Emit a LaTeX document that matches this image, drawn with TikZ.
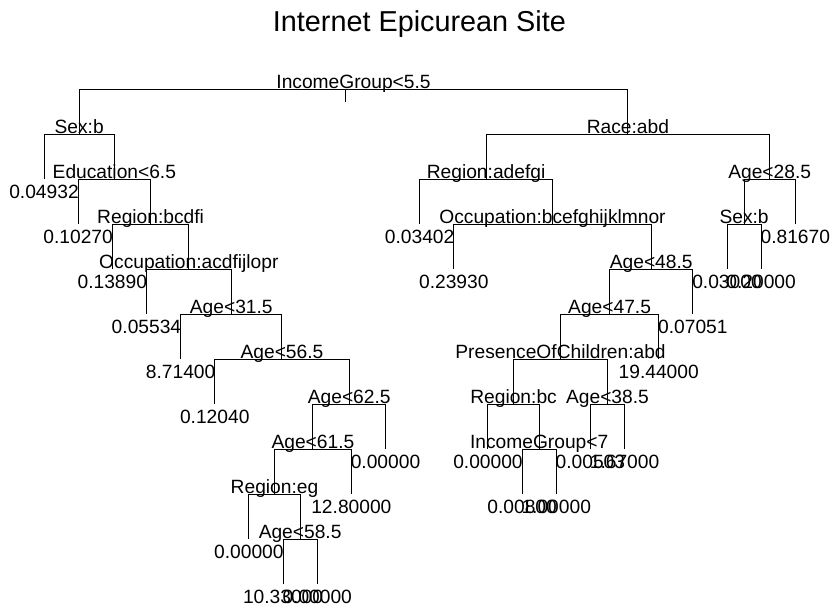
\documentclass[tikz,border=0pt]{standalone}
\usepackage{fontspec}
\setmainfont{Liberation Sans}
\newcommand\treelabelfont{\fontsize{19.2}{22}\selectfont}
\newcommand\treetitlefont{\fontsize{28.8}{32}\selectfont}
\begin{document}
\begin{tikzpicture}[x=1pt,y=-1pt,
  branch/.style={line width=1pt},
  splitlabel/.style={anchor=base, inner sep=0pt, font=\treelabelfont, yshift=0.5pt},
  leaflabel/.style={anchor=base, inner sep=0pt, font=\treelabelfont, yshift=-19.5pt},
  titlelabel/.style={anchor=base, inner sep=0pt, font=\treetitlefont}]
\useasboundingbox[fill=white] (0,0) rectangle (838,610);
% internal nodes (left)
\coordinate (root) at (353.53,89);
\coordinate (stub) at (345,102);
\coordinate (sexL) at (79.18,134);
\coordinate (edu) at (114.37,179);
\coordinate (regbcdfi) at (150.59,224);
\coordinate (occL) at (188.87,269);
\coordinate (a315) at (231.29,314);
\coordinate (a565) at (281.98,359);
\coordinate (a625) at (349.22,404);
\coordinate (a615) at (312.93,449);
\coordinate (regeg) at (274.51,494);
\coordinate (a585) at (300.125,539);
% internal nodes (right)
\coordinate (race) at (627.88,134);
\coordinate (regadefgi) at (486.08,179);
\coordinate (occR) at (552.51,224);
\coordinate (a485) at (651.23,269);
\coordinate (a475) at (609.61,314);
\coordinate (poc) at (560.52,359);
\coordinate (regbc) at (513.56,404);
\coordinate (ig7) at (539.18,449);
\coordinate (a385) at (607.48,404);
\coordinate (a285) at (769.69,179);
\coordinate (sexR) at (744.08,224);
% leaves
\coordinate (l0) at (44,179);
\coordinate (l1) at (78.15,224);
\coordinate (l2) at (112.3,269);
\coordinate (l3) at (146.45,314);
\coordinate (l4) at (180.6,359);
\coordinate (l5) at (214.75,404);
\coordinate (l6) at (248.9,539);
\coordinate (l7) at (283.05,584);
\coordinate (l8) at (317.2,584);
\coordinate (l9) at (351.35,494);
\coordinate (l10) at (385.5,449);
\coordinate (l11) at (419.65,224);
\coordinate (l12) at (453.8,269);
\coordinate (l13) at (487.95,449);
\coordinate (l14) at (522.1,494);
\coordinate (l15) at (556.25,494);
\coordinate (l16) at (590.4,449);
\coordinate (l17) at (624.55,449);
\coordinate (l18) at (658.7,359);
\coordinate (l19) at (692.85,314);
\coordinate (l20) at (727,269);
\coordinate (l21) at (761.15,269);
\coordinate (l22) at (795.3,224);
% branches
\foreach \p/\a/\b in {root/sexL/race, sexL/l0/edu, edu/l1/regbcdfi, regbcdfi/l2/occL,
  occL/l3/a315, a315/l4/a565, a565/l5/a625, a625/a615/l10, a615/regeg/l9,
  regeg/l6/a585, a585/l7/l8, race/regadefgi/a285, regadefgi/l11/occR,
  occR/l12/a485, a485/a475/l19, a475/poc/l18, poc/regbc/a385, regbc/l13/ig7,
  ig7/l14/l15, a385/l16/l17, a285/sexR/l22, sexR/l20/l21}
  \draw[branch] (\a) -- (\a |- \p) -- (\b |- \p) -- (\b);
\draw[branch] (stub |- root) -- (stub);
% title
\node[titlelabel] (title) at (419.4,32) {Internet Epicurean Site};
% split labels
\node[splitlabel] (troot) at (root) {IncomeGroup<5.5};
\node[splitlabel] (tsexL) at (sexL) {Sex:b};
\node[splitlabel] (tedu) at (edu) {Education<6.5};
\node[splitlabel] (tregbcdfi) at (regbcdfi) {Region:bcdfi};
\node[splitlabel] (toccL) at (occL) {Occupation:acdfijlopr};
\node[splitlabel] (ta315) at (a315) {Age<31.5};
\node[splitlabel] (ta565) at (a565) {Age<56.5};
\node[splitlabel] (ta625) at (a625) {Age<62.5};
\node[splitlabel] (ta615) at (a615) {Age<61.5};
\node[splitlabel] (tregeg) at (regeg) {Region:eg};
\node[splitlabel] (ta585) at (a585) {Age<58.5};
\node[splitlabel] (trace) at (race) {Race:abd};
\node[splitlabel] (tregadefgi) at (regadefgi) {Region:adefgi};
\node[splitlabel] (toccR) at (occR) {Occupation:bcefghijklmnor};
\node[splitlabel] (ta485) at (a485) {Age<48.5};
\node[splitlabel] (ta475) at (a475) {Age<47.5};
\node[splitlabel] (tpoc) at (poc) {PresenceOfChildren:abd};
\node[splitlabel] (tregbc) at (regbc) {Region:bc};
\node[splitlabel] (tig7) at (ig7) {IncomeGroup<7};
\node[splitlabel] (ta385) at (a385) {Age<38.5};
\node[splitlabel] (ta285) at (a285) {Age<28.5};
\node[splitlabel] (tsexR) at (sexR) {Sex:b};
% leaf labels
\node[leaflabel] (t0) at (l0) {0.04932};
\node[leaflabel] (t1) at (l1) {0.10270};
\node[leaflabel] (t2) at (l2) {0.13890};
\node[leaflabel] (t3) at (l3) {0.05534};
\node[leaflabel] (t4) at (l4) {8.71400};
\node[leaflabel] (t5) at (l5) {0.12040};
\node[leaflabel] (t6) at (l6) {0.00000};
\node[leaflabel] (t7) at (l7) {10.33000};
\node[leaflabel] (t8) at (l8) {0.00000};
\node[leaflabel] (t9) at (l9) {12.80000};
\node[leaflabel] (t10) at (l10) {0.00000};
\node[leaflabel] (t11) at (l11) {0.03402};
\node[leaflabel] (t12) at (l12) {0.23930};
\node[leaflabel] (t13) at (l13) {0.00000};
\node[leaflabel] (t14) at (l14) {0.00800};
\node[leaflabel] (t15) at (l15) {1.00000};
\node[leaflabel] (t16) at (l16) {0.00503};
\node[leaflabel] (t17) at (l17) {1.67000};
\node[leaflabel] (t18) at (l18) {19.44000};
\node[leaflabel] (t19) at (l19) {0.07051};
\node[leaflabel] (t20) at (l20) {0.03000};
\node[leaflabel] (t21) at (l21) {0.20000};
\node[leaflabel] (t22) at (l22) {0.81670};
\end{tikzpicture}
\end{document}
